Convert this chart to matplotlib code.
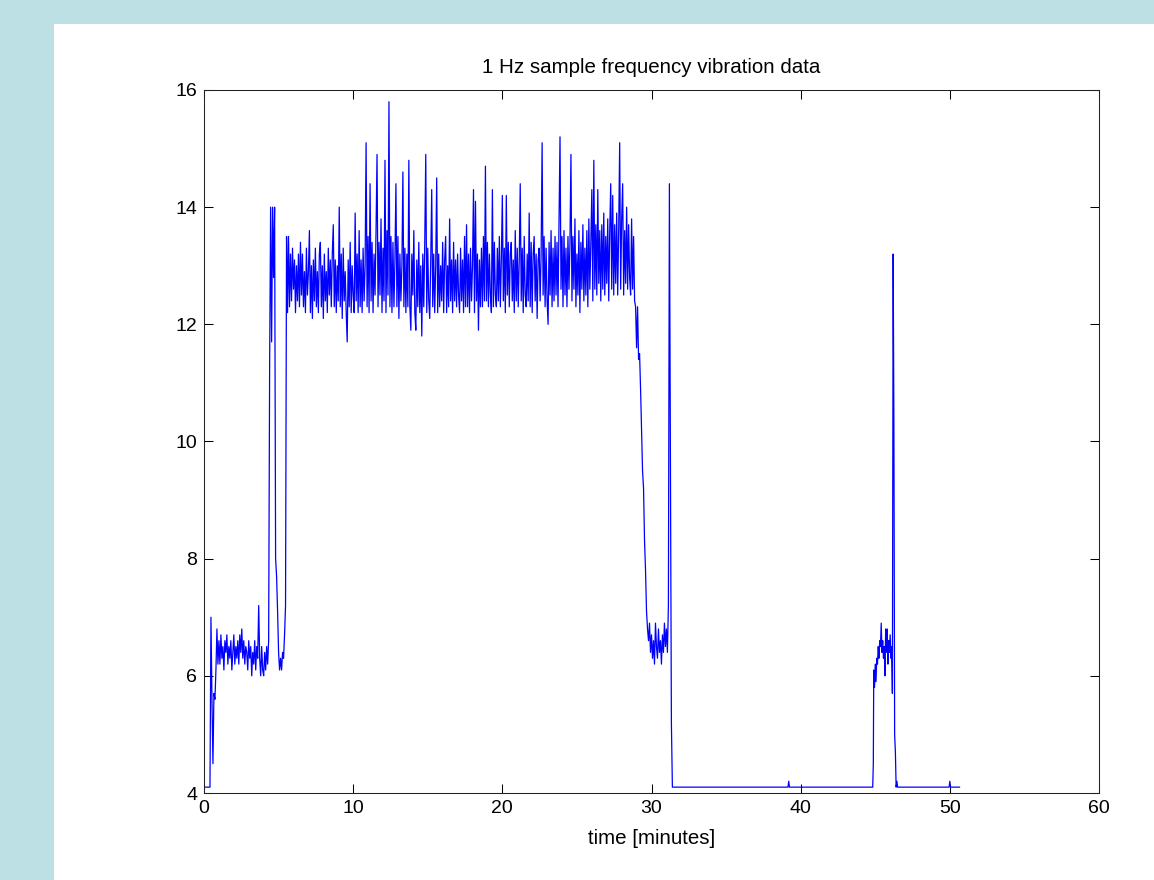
import numpy as np
import matplotlib.pyplot as plt
from matplotlib.patches import Rectangle

plt.rcParams['font.family'] = ['Liberation Sans', 'DejaVu Sans']

# samples every 4 s (1/15 min)
step = 1.0 / 15

startup_t0 = 0.0
startup = [
    4.1, 4.1, 4.1, 4.1, 4.1, 4.1, 4.1, 7.0, 5.6, 4.5, 5.7, 5.6, 6.1, 6.8, 6.2,
    6.6, 6.2, 6.7, 6.3, 6.5, 6.1, 6.6, 6.4, 6.7, 6.2, 6.5, 6.3, 6.6, 6.1, 6.4,
    6.7, 6.2, 6.5, 6.3, 6.6, 6.2, 6.7, 6.4, 6.8, 6.3, 6.6, 6.2, 6.5, 6.4, 6.1,
    6.6, 6.3, 6.5, 6.0, 6.4, 6.2, 6.6, 6.1, 6.5, 6.3, 7.2, 6.3, 6.0, 6.5, 6.1,
    6.0, 6.4, 6.1, 6.5, 6.2, 6.6, 11.3, 14.0, 11.7, 14.0, 12.8, 14.0, 8.0, 7.7, 7.1,
    6.4, 6.1, 6.3, 6.1, 6.4, 6.3, 6.7, 7.2, 13.5,
]

plateau_t0 = 5.6
plateau = [
    12.2, 13.5, 12.3, 13.2, 12.4, 13.3, 12.6, 13.1, 12.2, 13.0, 12.4, 13.2, 12.3, 13.4, 12.5,
    13.2, 12.3, 12.9, 12.2, 13.3, 12.5, 12.9, 13.6, 12.2, 13.0, 12.1, 13.1, 12.4, 13.3, 12.3,
    12.9, 12.2, 13.2, 13.4, 12.3, 13.0, 12.1, 13.2, 12.4, 12.9, 12.2, 13.3, 12.5, 13.1, 12.3,
    13.2, 13.7, 12.3, 13.1, 12.2, 13.0, 12.4, 14.0, 12.3, 13.2, 12.1, 13.3, 12.4, 12.9, 12.2,
    11.7, 13.1, 12.3, 13.4, 12.2, 13.0, 12.5, 12.2, 13.9, 12.4, 13.2, 12.2, 13.6, 12.3, 13.1,
    12.2, 13.3, 12.4, 13.0, 15.1, 12.3, 13.5, 12.2, 14.4, 12.4, 13.4, 12.2, 13.2, 12.5, 13.6,
    14.9, 12.3, 13.4, 12.5, 13.8, 12.2, 13.3, 12.4, 14.8, 12.2, 13.6, 12.5, 15.8, 12.3, 13.5,
    12.2, 13.4, 12.3, 13.1, 14.4, 12.3, 13.5, 12.1, 13.2, 12.4, 13.0, 14.6, 12.3, 13.3, 12.2,
    13.2, 12.3, 14.8, 12.3, 11.9, 13.2, 12.5, 13.6, 12.2, 11.9, 13.1, 12.3, 13.4, 12.2, 13.0,
    11.8, 13.2, 12.3, 13.4, 14.9, 12.2, 13.3, 12.4, 12.1, 13.1, 14.3, 12.3, 13.2, 12.2, 13.0,
    14.5, 12.2, 13.2, 12.3, 13.0, 12.4, 13.4, 12.2, 13.1, 13.5, 12.2, 13.0, 12.3, 13.8, 12.4,
    13.1, 12.2, 13.4, 12.4, 13.1, 12.3, 13.2, 12.5, 12.2, 13.3, 12.4, 13.1, 12.2, 13.5, 12.3,
    13.7, 12.3, 13.2, 12.2, 13.3, 12.4, 13.0, 14.3, 12.2, 14.1, 12.4, 13.2, 11.9, 13.1, 12.3,
    13.3, 12.3, 13.5, 12.4, 14.7, 12.4, 13.4, 12.3, 13.2, 12.5, 12.2, 14.3, 12.3, 13.4, 12.5,
    12.3, 13.3, 12.4, 13.5, 12.3, 13.1, 14.2, 12.4, 13.3, 12.2, 14.2, 12.5, 13.4, 12.3, 13.2,
    13.4, 12.4, 13.1, 12.2, 13.6, 12.4, 13.3, 12.3, 13.1, 14.4, 12.4, 13.3, 12.2, 13.5, 12.5,
    12.3, 13.2, 12.4, 13.9, 12.3, 13.4, 12.2, 13.2, 13.5, 12.4, 13.2, 12.1, 13.1, 13.3, 12.4,
    13.2, 15.1, 12.5, 13.5, 12.3, 13.3, 12.4, 12.0, 13.4, 12.5, 13.6, 12.3, 13.3, 12.4, 13.5,
    12.5, 13.4, 12.3, 13.7, 15.2, 12.6, 13.5, 12.3, 13.6, 12.5, 13.3, 12.3, 13.5, 12.6, 13.4,
    14.9, 12.4, 13.5, 12.6, 13.8, 12.3, 13.2, 12.5, 13.6, 12.2, 13.4, 12.6, 13.7, 12.4, 13.3,
    12.5, 13.6, 12.3, 13.8, 12.6, 13.4, 14.3, 12.4, 14.8, 12.6, 13.7, 12.5, 14.3, 12.7, 13.6,
    12.4, 13.7, 12.6, 13.9, 12.5, 13.5, 12.7, 13.8, 12.4, 13.6, 14.4, 12.6, 14.2, 12.5, 13.7,
    12.7, 13.9, 12.5, 13.6, 15.1, 12.6, 13.8, 14.4, 12.5, 13.6, 12.7, 14.0, 12.6, 13.7, 12.8,
    12.5, 13.8, 12.6, 13.5, 12.4, 12.3,
]

rundown_t0 = 29.0
rundown = [
    11.6, 12.3, 11.4, 11.5, 10.9, 10.2, 9.5, 9.2, 8.3, 7.8, 7.1, 6.8, 6.6, 6.9, 6.4,
    6.7, 6.3, 6.6, 6.2, 6.9, 6.5, 6.3, 6.8, 6.4, 6.6, 6.2, 6.7, 6.4, 6.9, 6.5,
    6.8, 6.4, 7.2, 14.4, 9.8, 5.2, 4.1,
]

tail_t = [39.15, 39.2, 39.25, 44.83, 44.87, 44.9, 44.95, 45.0, 45.05, 45.1,
          45.15, 45.2, 45.25, 45.3, 45.35, 45.4, 45.45, 45.5, 45.55, 45.6,
          45.65, 45.7, 45.75, 45.8, 45.85, 45.9, 45.95, 46.0, 46.05, 46.1,
          46.15, 46.2, 46.25, 46.3, 46.35, 46.4, 46.45, 46.5, 49.95, 50.0,
          50.05, 50.65]
tail_v = [4.1, 4.2, 4.1, 4.1, 4.5, 6.1, 5.8, 6.2, 5.9, 6.3,
          6.2, 6.5, 6.3, 6.6, 6.5, 6.9, 6.4, 6.6, 6.3, 6.5,
          6.0, 6.8, 6.4, 6.8, 6.2, 6.6, 6.4, 6.7, 6.3, 6.5,
          5.7, 13.2, 10.3, 5.0, 4.7, 4.1, 4.2, 4.1, 4.1, 4.2,
          4.1, 4.1]

t = np.concatenate([
    startup_t0 + step * np.arange(len(startup)),
    plateau_t0 + step * np.arange(len(plateau)),
    rundown_t0 + step * np.arange(len(rundown)),
    tail_t,
])
v = np.concatenate([startup, plateau, rundown, tail_v])

fig = plt.figure(figsize=(11.54, 8.80), dpi=100, facecolor='#bce0e3')
fig.patches.append(Rectangle((54 / 1154, 0), 1, 1 - 24 / 880,
                             transform=fig.transFigure, facecolor='white',
                             edgecolor='none', zorder=-10))
ax = fig.add_axes([204 / 1154, 1 - 793 / 880, 895 / 1154, 703 / 880])
ax.set_zorder(1)

ax.plot(t, v, color='#0000ff', linewidth=0.9)

ax.set_xlim(0, 60)
ax.set_ylim(4, 16)
ax.set_xticks(range(0, 61, 10))
ax.set_yticks(range(4, 17, 2))
ax.tick_params(direction='in', length=6.5, width=0.75, top=True, right=True,
               labelsize=14, pad=5)
for s in ax.spines.values():
    s.set_linewidth(0.75)
    s.set_color('#222222')

ax.set_title('1 Hz sample frequency vibration data', fontsize=14.8, pad=12)
ax.set_xlabel('time [minutes]', fontsize=14.8, labelpad=9)

fig.savefig('out.png', dpi=100, facecolor=fig.get_facecolor())
